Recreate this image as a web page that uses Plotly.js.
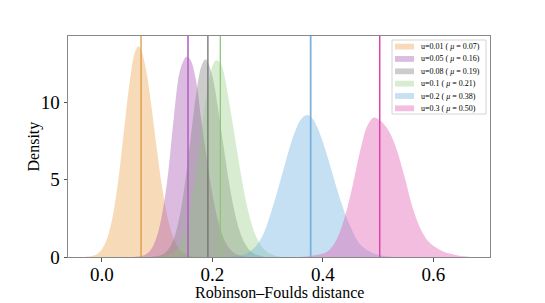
<!DOCTYPE html>
<html>
<head>
<meta charset="utf-8">
<script src="https://cdn.plot.ly/plotly-3.0.1.min.js"></script>
<style>html,body{margin:0;padding:0;background:#fff;}#chart{width:545px;height:303px;}</style>
</head>
<body>
<div id="chart"></div>
<script>
// ---- data ----
var uLabels = ["0.01", "0.05", "0.08", "0.1", "0.2", "0.3"];
var muLabels = ["0.07", "0.16", "0.19", "0.21", "0.38", "0.50"];
var means = [0.071, 0.156, 0.192, 0.2145, 0.378, 0.503];

var xU001 = [-0.03,-0.02,-0.01,0.0,0.01,0.02,0.03,0.04,0.05,0.06,0.066,0.07,0.08,0.09,0.10,0.11,0.12,0.13,0.14,0.15,0.16,0.17,0.18];
var yU001 = [0.01,0.05,0.16,0.48,1.22,2.67,5.02,8.09,11.17,13.23,13.6,13.47,12.10,9.66,6.84,4.30,2.40,1.19,0.52,0.21,0.07,0.02,0.0];

var xU005 = [0.06,0.07,0.08,0.09,0.10,0.11,0.12,0.13,0.14,0.147,0.153,0.16,0.17,0.18,0.19,0.20,0.21,0.22,0.23,0.24,0.25,0.26,0.27];
var yU005 = [0.01,0.05,0.18,0.54,1.37,2.94,5.41,8.9,11.8,12.6,12.92,12.75,11.5,8.84,6.34,4.09,2.38,1.25,0.59,0.25,0.10,0.03,0.0];

var xU008 = [0.09,0.10,0.11,0.12,0.13,0.14,0.15,0.16,0.17,0.18,0.187,0.19,0.20,0.21,0.22,0.23,0.24,0.25,0.26,0.27,0.28,0.29,0.30];
var yU008 = [0.01,0.05,0.16,0.46,1.15,2.49,4.63,7.44,10.30,12.30,12.75,12.69,11.68,9.68,7.23,4.87,2.96,1.62,0.80,0.35,0.14,0.05,0.0];

var xU01 = [0.10,0.11,0.12,0.13,0.14,0.15,0.16,0.17,0.18,0.19,0.20,0.207,0.215,0.22,0.23,0.24,0.25,0.26,0.27,0.28,0.29,0.30,0.31,0.32,0.33];
var yU01 = [0.01,0.03,0.10,0.29,0.72,1.60,3.10,5.30,7.97,10.55,12.30,12.69,12.5,12.0,10.1,7.92,5.71,3.76,2.28,1.27,0.65,0.30,0.13,0.04,0.0];

var xU02 = [0.23,0.24,0.25,0.26,0.27,0.28,0.29,0.30,0.31,0.32,0.33,0.34,0.35,0.36,0.371,0.38,0.39,0.40,0.41,0.42,0.43,0.44,0.45,0.46,0.47,0.48,0.49,0.50,0.51,0.52,0.53];
var yU02 = [0.01,0.04,0.09,0.2,0.4,0.75,1.3,2.2,3.3,4.53,5.81,7.06,8.13,8.86,9.16,8.98,8.38,7.44,6.29,5.06,3.88,2.83,1.96,1.2,0.72,0.45,0.26,0.14,0.07,0.03,0.0];

var xU03 = [0.36,0.37,0.38,0.39,0.40,0.41,0.42,0.43,0.44,0.45,0.46,0.47,0.48,0.492,0.50,0.51,0.52,0.53,0.54,0.55,0.56,0.57,0.58,0.59,0.60,0.61,0.62,0.63,0.64,0.65,0.66,0.67];
var yU03 = [0.01,0.03,0.08,0.15,0.22,0.41,0.83,1.54,2.60,4.00,5.62,7.21,8.42,9.0,8.9,8.6,8.1,7.3,6.2,4.9,3.5,2.4,1.6,1.05,0.72,0.5,0.33,0.22,0.13,0.07,0.03,0.0];

var xTicks = [0.0, 0.2, 0.4, 0.6];
var xTickText = ["0.0", "0.2", "0.4", "0.6"];
var yTicks = [0, 5, 10];
var yTickText = ["0", "5", "10"];
var xTitle = "Robinson\u2013Foulds distance";
var yTitle = "Density";

// ---- styling ----
var xs = [xU001, xU005, xU008, xU01, xU02, xU03];
var ys = [yU001, yU005, yU008, yU01, yU02, yU03];
var fillColors = [
  "rgba(232,155,60,0.36)",
  "rgba(163,75,176,0.38)",
  "rgba(128,128,128,0.40)",
  "rgba(140,200,120,0.35)",
  "rgba(106,174,224,0.38)",
  "rgba(224,90,176,0.40)"
];
var lineColors = ["#d8923a", "#b05cc0", "#707070", "#8cc878", "#7ab2de", "#e040a8"];
var lineWidths = [1.2, 1.5, 1.3, 1.3, 1.8, 1.5];

var W = 545, H = 303;
var M = {l: 68, r: 55, t: 36, b: 46};
var PW = W - M.l - M.r, PH = H - M.t - M.b;
function px(p) { return (p - M.l) / PW; }
function py(p) { return (H - M.b - p) / PH; }

var FONT = "Liberation Serif, Times New Roman, serif";

var traces = [];
for (var i = 0; i < xs.length; i++) {
  traces.push({
    type: "scatter", mode: "lines",
    x: xs[i], y: ys[i],
    fill: "tozeroy", fillcolor: fillColors[i],
    line: {width: 0, shape: "spline", smoothing: 1, color: fillColors[i]},
    hoverinfo: "skip", showlegend: false
  });
}

var shapes = [];
for (var i = 0; i < means.length; i++) {
  shapes.push({type: "line", xref: "x", yref: "paper", x0: means[i], x1: means[i], y0: 0, y1: 1,
    line: {color: lineColors[i], width: lineWidths[i]}});
}

var annotations = [];
// axis titles
annotations.push({xref: "paper", yref: "paper", x: px(279), y: py(292.5),
  xanchor: "center", yanchor: "middle", showarrow: false, text: xTitle,
  font: {family: FONT, size: 16, color: "#000"}});
annotations.push({xref: "paper", yref: "paper", x: px(33), y: py(146.5),
  xanchor: "center", yanchor: "middle", showarrow: false, text: yTitle, textangle: -90,
  font: {family: FONT, size: 16, color: "#000"}});

// custom legend (matplotlib-style compact box)
var boxL = 392, boxR = 486, boxT = 40, boxB = 114;
shapes.push({type: "rect", xref: "paper", yref: "paper",
  x0: px(boxL), x1: px(boxR), y0: py(boxB), y1: py(boxT),
  line: {color: "#d4d4d4", width: 1}, fillcolor: "rgba(255,255,255,0.85)"});
for (var i = 0; i < uLabels.length; i++) {
  var cy = 46.6 + i * 12.35;
  shapes.push({type: "rect", xref: "paper", yref: "paper",
    x0: px(395), x1: px(414), y0: py(cy + 2.9), y1: py(cy - 2.9),
    line: {width: 0}, fillcolor: fillColors[i]});
  annotations.push({xref: "paper", yref: "paper", x: px(418.5), y: py(cy),
    xanchor: "left", yanchor: "middle", showarrow: false,
    text: "u=" + uLabels[i] + " ( <i>\u03bc</i> = " + muLabels[i] + ")",
    font: {family: FONT, size: 8, color: "#000"}});
}

var layout = {
  width: W, height: H,
  margin: M,
  paper_bgcolor: "#fff", plot_bgcolor: "#fff",
  showlegend: false,
  font: {family: FONT, color: "#000"},
  xaxis: {
    range: [-0.0612, 0.7026], tickvals: xTicks, ticktext: xTickText,
    ticks: "outside", ticklen: 3.5, tickcolor: "#555", tickwidth: 1,
    ticklabelstandoff: -3,
    showgrid: false, zeroline: false,
    showline: true, linecolor: "#888", linewidth: 1, mirror: true,
    tickfont: {family: FONT, size: 19, color: "#000"}
  },
  yaxis: {
    range: [0, 14.26], tickvals: yTicks, ticktext: yTickText,
    ticks: "outside", ticklen: 3.5, tickcolor: "#555", tickwidth: 1,
    showgrid: false, zeroline: false,
    showline: true, linecolor: "#888", linewidth: 1, mirror: true,
    tickfont: {family: FONT, size: 19, color: "#000"}
  },
  shapes: shapes,
  annotations: annotations
};

Plotly.newPlot("chart", traces, layout, {staticPlot: true, displayModeBar: false});
</script>
</body>
</html>
